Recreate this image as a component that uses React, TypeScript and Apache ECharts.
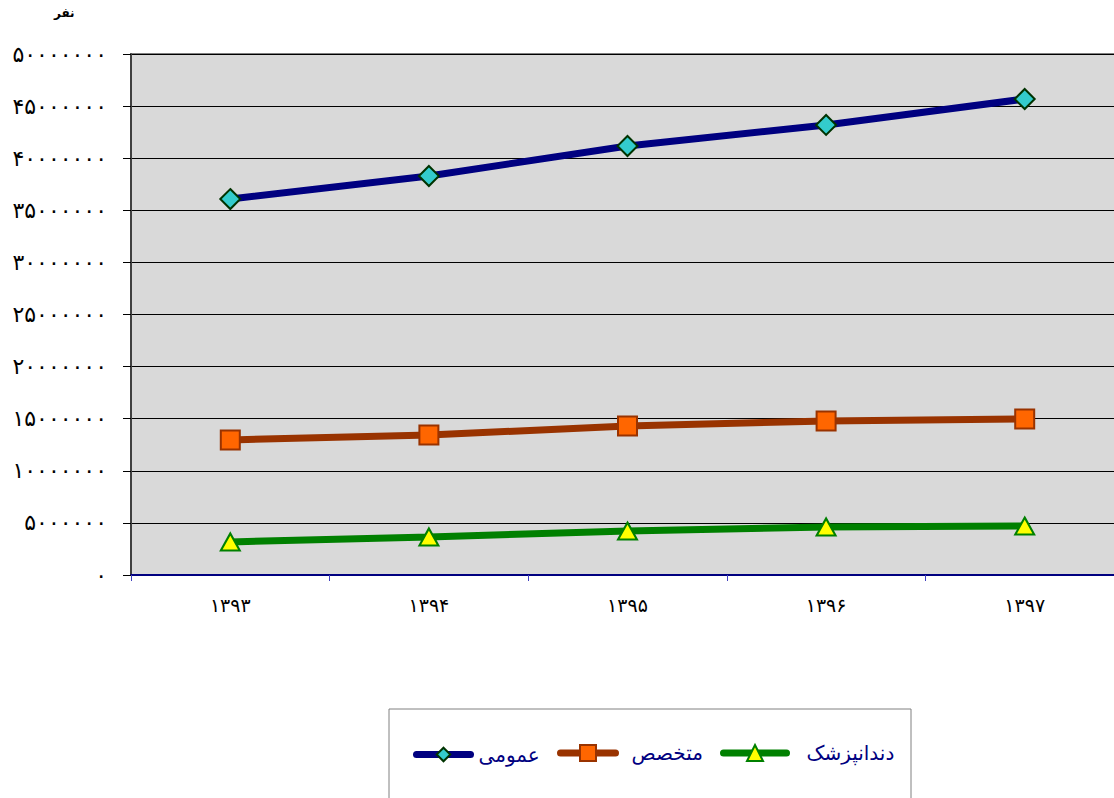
import React, { useEffect, useRef } from "react";
import * as echarts from "echarts";

const years = ["1393", "1394", "1395", "1396", "1397"];
const general = [36080000, 38290000, 41170000, 43190000, 45680000];
const specialist = [12960000, 13440000, 14300000, 14780000, 14970000];
const dentist = [3170000, 3650000, 4220000, 4610000, 4700000];
const seriesNames = ["عمومی", "متخصص", "دندانپزشک"];
const unitLabel = "نفر";

const toFa = (s: string | number) =>
  String(s).replace(/[0-9]/g, (d) => "۰۱۲۳۴۵۶۷۸۹"[Number(d)]);

export default function App() {
  const ref = useRef<HTMLDivElement>(null);
  useEffect(() => {
    document.body.style.margin = "0";
    document.body.style.overflow = "hidden";
    const chart = echarts.init(ref.current!, null, { renderer: "svg" });
    const digitFont = "'DejaVu Sans', sans-serif";
    const legendText = {
      color: "#000080",
      fontSize: 20,
      fontFamily: "'DejaVu Sans', sans-serif",
    };
    const mkLegend = (
      name: string,
      left: number,
      w: number,
      pad: number,
      h: number
    ) => ({
      left,
      top: 753 - h / 2,
      padding: 0,
      itemWidth: w,
      itemHeight: h,
      lineStyle: { width: 7, cap: "round" },
      textStyle: { ...legendText, padding: [0, 0, 0, pad] },
      data: [name],
    });
    chart.setOption({
      animation: false,
      backgroundColor: "#ffffff",
      grid: {
        left: 131,
        top: 54,
        width: 993,
        height: 521,
        show: true,
        backgroundColor: "#d9d9d9",
        borderColor: "#808080",
        borderWidth: 2,
      },
      graphic: [
        {
          type: "rect",
          shape: { x: 389, y: 709, width: 522, height: 120 },
          style: { fill: "#ffffff", stroke: "#808080", lineWidth: 1 },
          z: -1,
        },
        {
          type: "text",
          x: 54,
          y: 7,
          style: {
            text: unitLabel,
            font: "bold 12px 'DejaVu Sans', sans-serif",
            fill: "#000000",
          },
        },
      ],
      legend: [
        mkLegend(seriesNames[0], 413, 54, 3, 17),
        mkLegend(seriesNames[1], 557, 55, 11, 20),
        mkLegend(seriesNames[2], 720, 63, 15, 20),
      ],
      xAxis: {
        type: "category",
        data: years,
        axisLine: { lineStyle: { color: "#000080", width: 2 } },
        axisTick: { show: true, length: 6, lineStyle: { color: "#4040c0" } },
        axisLabel: {
          color: "#000000",
          fontSize: 19,
          fontFamily: digitFont,
          margin: 20,
          formatter: (v: string) => toFa(v),
        },
        splitLine: { show: false },
      },
      yAxis: {
        type: "value",
        min: 0,
        max: 50000000,
        interval: 5000000,
        axisLine: { show: true, lineStyle: { color: "#404040", width: 2 } },
        axisTick: { show: true, length: 8, lineStyle: { color: "#000000" } },
        axisLabel: {
          color: "#000000",
          fontSize: 22,
          fontFamily: digitFont,
          margin: 24,
          formatter: (v: number) => toFa(v),
        },
        splitLine: { show: true, lineStyle: { color: "#000000", width: 1 } },
      },
      series: [
        {
          name: seriesNames[0],
          type: "line",
          data: general,
          symbol: "diamond",
          symbolSize: 20,
          lineStyle: { color: "#000080", width: 7 },
          itemStyle: { color: "#33cccc", borderColor: "#003300", borderWidth: 2 },
          z: 3,
        },
        {
          name: seriesNames[1],
          type: "line",
          data: specialist,
          symbol: "rect",
          symbolSize: 19,
          lineStyle: { color: "#993300", width: 7 },
          itemStyle: { color: "#ff6600", borderColor: "#993300", borderWidth: 2 },
          z: 3,
        },
        {
          name: seriesNames[2],
          type: "line",
          data: dentist,
          symbol: "triangle",
          symbolSize: [19, 17],
          lineStyle: { color: "#008000", width: 7 },
          itemStyle: { color: "#ffff00", borderColor: "#008000", borderWidth: 2 },
          z: 3,
        },
      ],
    });
    return () => chart.dispose();
  }, []);
  return (
    <div
      style={{
        position: "absolute",
        left: 0,
        top: 0,
        width: 1114,
        height: 798,
        overflow: "hidden",
      }}
    >
      <div ref={ref} style={{ width: 1134, height: 798 }} />
    </div>
  );
}
